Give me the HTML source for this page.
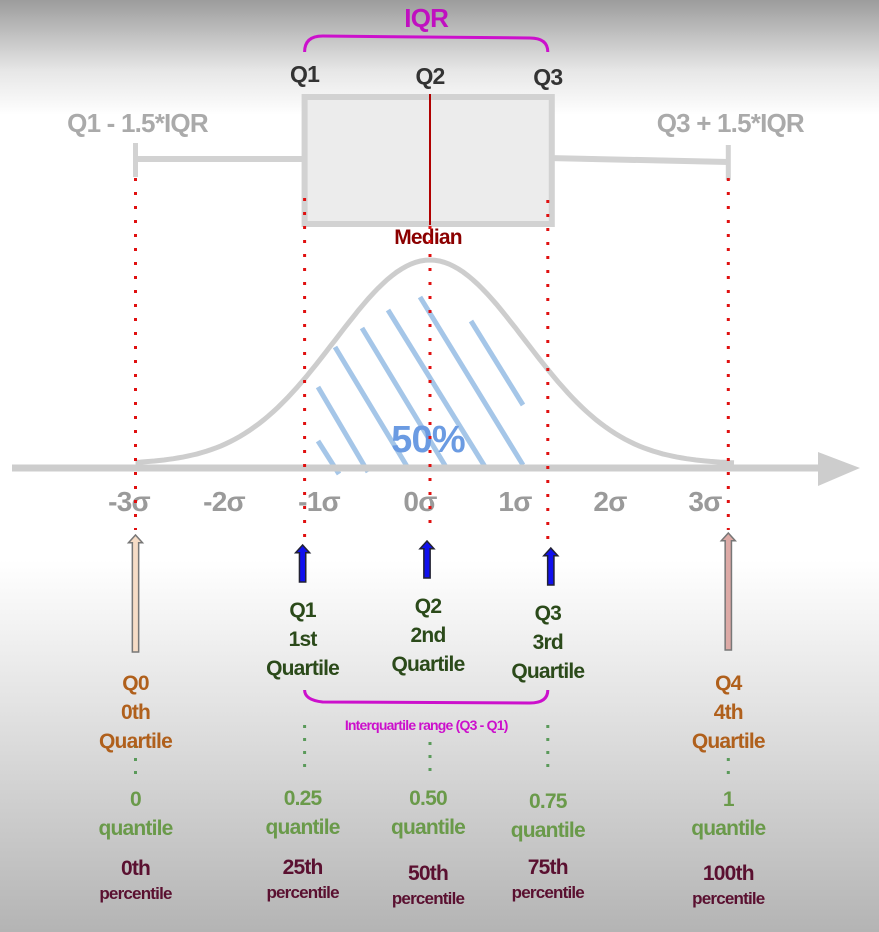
<!DOCTYPE html>
<html><head><meta charset="utf-8"><style>
html,body{margin:0;padding:0}
body{width:879px;height:932px;overflow:hidden;font-family:"Liberation Sans",sans-serif;
background:linear-gradient(to bottom,#9c9c9c 0px,#e6e6e6 70px,#fff 115px,#fff 560px,#e4e4e4 700px,#b4b4b4 932px);}
svg{display:block}
text{font-family:"Liberation Sans",sans-serif;font-weight:bold;text-anchor:middle;letter-spacing:-0.8px}
</style></head><body>
<svg id="chart" width="879" height="932" viewBox="0 0 879 932">
<g id="gTop"></g>
<g id="gMid"></g>
<g id="gBot"></g>
</svg>
<script>
const sigmaTicks=[-3,-2,-1,0,1,2,3];
const sigmaLabels=["-3σ","-2σ","-1σ","0σ","1σ","2σ","3σ"];
const quartileSigma=[-3.1,-1.32,0,1.24,3.14];
const quartileNames=["Q0","Q1","Q2","Q3","Q4"];
const ordinalNames=["0th","1st","2nd","3rd","4th"];
const quantileValues=["0","0.25","0.50","0.75","1"];
const percentileValues=["0th","25th","50th","75th","100th"];
const shadedPercent="50%";

const NS="http://www.w3.org/2000/svg";
const xs=s=>430+95*s;
const axisY=468, peak=204;
const yCurve=s=>axisY-4-peak*Math.exp(-s*s/2);
function el(tag,attrs,parent,txt){const n=document.createElementNS(NS,tag);for(const k in attrs)n.setAttribute(k,attrs[k]);if(txt!==undefined)n.textContent=txt;parent.appendChild(n);return n;}
const gTop=document.getElementById('gTop'),gMid=document.getElementById('gMid'),gBot=document.getElementById('gBot');

const q1x=xs(quartileSigma[1]),q2x=xs(quartileSigma[2]),q3x=xs(quartileSigma[3]),lw=xs(quartileSigma[0]),rw=xs(quartileSigma[4]);
let e;
e=el('line',{x1:lw,y1:159,x2:q1x,y2:159,stroke:'#d2d2d2','stroke-width':6},gTop);

e=el('line',{x1:q3x,y1:158,x2:rw,y2:162,stroke:'#d2d2d2','stroke-width':6},gTop);

e=el('line',{x1:lw,y1:143,x2:lw,y2:177,stroke:'#d2d2d2','stroke-width':5},gTop);

e=el('line',{x1:rw,y1:145,x2:rw,y2:180,stroke:'#d2d2d2','stroke-width':5},gTop);

e=el('rect',{x:q1x,y:97,width:q3x-q1x+4,height:127,fill:'#ececec',stroke:'#d2d2d2','stroke-width':6},gTop);

e=el('line',{x1:q2x,y1:94,x2:q2x,y2:225,stroke:'#b00000','stroke-width':2},gTop);

e=el('path',{d:`M${q1x} 52 Q${q1x} 36 ${q1x+18} 36 L${q3x-18} 38 Q${q3x} 38 ${q3x} 52`,fill:'none',stroke:'#cc10cc','stroke-width':3},gTop);

e=el('text',{x:(q1x+q3x)/2,y:27,fill:'#c010c0','font-size':26},gTop,'IQR');

[[q1x,82,'Q1'],[q2x,84,'Q2'],[q3x,85,'Q3']].forEach((d,i)=>{
 const t=el('text',{x:d[0],y:d[1],fill:'#333','font-size':23},gTop,d[2]);
 });
e=el('text',{x:lw+2,y:132,fill:'#aaa','font-size':26},gTop,'Q1 - 1.5*IQR');

e=el('text',{x:rw+2,y:132,fill:'#aaa','font-size':26},gTop,'Q3 + 1.5*IQR');

e=el('text',{x:q2x-2,y:244,fill:'#8b0000','font-size':21},gTop,'Median');


let pts=[];for(let s=-3.1;s<=3.2;s+=0.05)pts.push(`${xs(s).toFixed(1)},${yCurve(s).toFixed(1)}`);
e=el('polyline',{points:pts.join(' '),fill:'none',stroke:'#cdcdcd','stroke-width':5},gMid);

// decorative hatch strokes
const hatch=el('g',{},gMid);

[[318,441,339,474],[318,387,368,472],[335,347,408,468],[362,328,446,467],[388,310,487,470],[420,297,523,465],[471,321,523,405]].forEach(h=>{
 el('line',{x1:h[0],y1:h[1],x2:h[2],y2:h[3],stroke:'#a5c6e8','stroke-width':5},hatch);});
e=el('text',{x:q2x-2,y:452,fill:'#6b9be2','font-size':38},gMid,shadedPercent);

e=el('line',{x1:12,y1:axisY,x2:825,y2:axisY,stroke:'#cdcdcd','stroke-width':7},gMid);

e=el('polygon',{points:`818,452 860,${axisY} 818,486`,fill:'#cdcdcd'},gMid);

sigmaTicks.forEach((s,i)=>{const t=el('text',{x:xs(s)-10+(s<0?-6:0),y:511,fill:'#9a9a9a','font-size':28},gMid,sigmaLabels[i]);
 });

[[lw,178,530],[q1x,198,540],[q2x,226,525],[q3x,200,545],[rw,178,530]].forEach(d=>{
 const l=el('line',{x1:d[0],y1:d[1],x2:d[0],y2:d[2],stroke:'#e01010','stroke-width':3,'stroke-dasharray':'3 11'},gMid);
 });

function arrow(cx,y1,y2,fill,stroke,w,name){const h=w*1.1,sw=w*0.45;
 const g=el('polygon',{points:`${cx-sw},${y2} ${cx-sw},${y1+h} ${cx-w},${y1+h} ${cx},${y1} ${cx+w},${y1+h} ${cx+sw},${y1+h} ${cx+sw},${y2}`,fill:fill,stroke:stroke,'stroke-width':1.5},gBot);
 }
const arrowTop=[535,545,541,548,533],arrowBot=[652,582,578,585,650];
quartileSigma.forEach((s,i)=>{
 const cx=[lw,q1x-2,q2x-3,q3x+3,rw][i];
 if(i==0)arrow(cx,arrowTop[i],arrowBot[i],'#f6dcc6','#777',7,'q0-arrow');
 else if(i==4)arrow(cx,arrowTop[i],arrowBot[i],'#ddaaa6','#777',7,'q4-arrow');
 else arrow(cx,arrowTop[i],arrowBot[i],'#1010ee','#223',7,'q'+i+'-arrow');
});
[[lw,745,775],[q1x,725,770],[q2x,742,772],[q3x,725,775],[rw,745,775]].forEach(d=>{
 const l=el('line',{x1:d[0],y1:d[1],x2:d[0],y2:d[2],stroke:'#5a9a5a','stroke-width':3,'stroke-dasharray':'3 10'},gBot);
 });
const qx=[lw,q1x-2,q2x-2,q3x,rw],qy=[690,617,613,620,690];
quartileNames.forEach((n,i)=>{
 const c=(i==0||i==4)?'#b0601c':'#2b4a1a';
 [n,ordinalNames[i],'Quartile'].forEach((t,j)=>{const tx=el('text',{x:qx[i],y:qy[i]+j*29,fill:c,'font-size':21},gBot,t);
  });
});
e=el('path',{d:`M${q1x} 690 Q${q1x} 700 ${q1x+18} 702 L${q3x-18} 703 Q${q3x} 703 ${q3x} 690`,fill:'none',stroke:'#cc10cc','stroke-width':3},gBot);

e=el('text',{x:(q1x+q3x)/2,y:730,fill:'#cc10cc','font-size':14,'font-weight':'normal'},gBot,'Interquartile range (Q3 - Q1)');

const vy=[806,805,805,808,806],py=[875,874,880,874,880];
quantileValues.forEach((v,i)=>{
 let t=el('text',{x:qx[i],y:vy[i],fill:'#6a9a4a','font-size':21},gBot,v);
 
 t=el('text',{x:qx[i],y:vy[i]+29,fill:'#6a9a4a','font-size':21},gBot,'quantile');
 
 t=el('text',{x:qx[i],y:py[i],fill:'#5a1030','font-size':21},gBot,percentileValues[i]);
 
 t=el('text',{x:qx[i],y:py[i]+24,fill:'#5a1030','font-size':17},gBot,'percentile');
 
});
</script>
</body></html>
